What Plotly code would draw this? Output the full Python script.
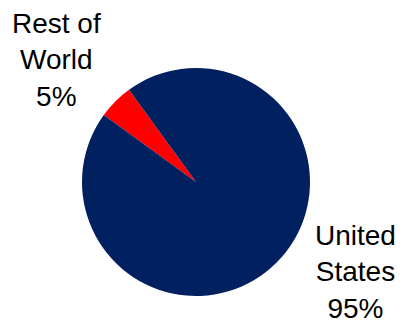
import plotly.graph_objects as go

labels = ["Rest of World", "United States"]
label_lines = ["Rest of<br>World", "United<br>States"]
values = [5, 95]
colors = ["#FF0000", "#002060"]

W, H = 403, 332
fig = go.Figure(go.Pie(
    labels=labels, values=values, sort=False,
    direction="counterclockwise", rotation=-54,
    marker=dict(colors=colors, line=dict(width=0)),
    textinfo="none", hoverinfo="label+percent",
    domain=dict(x=[82 / W, 310 / W], y=[1 - 296 / H, 1 - 68 / H]),
    showlegend=False,
))

total = sum(values)
ann_pos = [(56, 59.5), (355, 271.5)]
for lbl, v, (px, py) in zip(label_lines, values, ann_pos):
    fig.add_annotation(
        text=f"{lbl}<br>{round(100 * v / total)}%",
        x=px / W, y=1 - py / H, xref="paper", yref="paper",
        xanchor="center", yanchor="middle", showarrow=False,
        font=dict(family="Liberation Sans, Arial", size=28, color="black"),
    )

fig.update_layout(
    width=W, height=H, margin=dict(l=0, r=0, t=0, b=0),
    paper_bgcolor="white", plot_bgcolor="white",
)
fig.write_html("out.html", config={"displayModeBar": False},
               post_script="document.body.style.margin='0';")
